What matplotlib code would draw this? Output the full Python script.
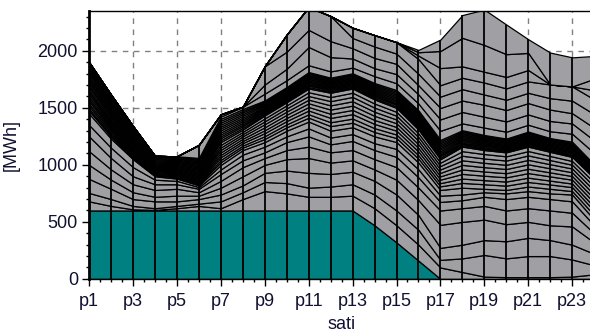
import numpy as np
import matplotlib.pyplot as plt

plt.rcParams['font.family'] = ['Liberation Sans', 'DejaVu Sans']
plt.rcParams['font.size'] = 13

hours = np.arange(1, 25)
hour_labels = ['p%d' % h for h in hours]

# base unit (teal)
base = [600, 600, 600, 600, 600, 600, 600, 600, 600, 600, 600, 600, 600,
        470, 320, 160, 0, 0, 0, 0, 0, 0, 0, 0]

# lower units, bottom to top [MWh]
lower = [
    [80, 40, 10, 5, 20, 40, 20, 100, 170, 150, 120, 120, 130, 150, 150, 140, 100, 60, 20, 15, 15, 15, 20, 40],
    [74, 60, 30, 15, 20, 20, 60, 60, 80, 90, 80, 90, 100, 120, 130, 130, 67, 120, 190, 165, 185, 185, 150, 80],
    [123, 90, 60, 60, 40, 40, 60, 60, 80, 110, 130, 110, 110, 120, 140, 130, 105, 120, 130, 150, 160, 140, 130, 100],
    [123, 80, 60, 40, 50, 30, 60, 80, 70, 100, 130, 100, 100, 100, 130, 130, 202, 200, 180, 150, 140, 130, 160, 100],
    [120, 90, 70, 60, 60, 30, 60, 80, 60, 80, 100, 90, 90, 90, 110, 110, 126, 120, 120, 120, 120, 130, 120, 80],
    [130, 100, 70, 50, 40, 30, 60, 60, 50, 70, 90, 70, 80, 80, 90, 90, 75, 70, 80, 100, 100, 100, 100, 70],
    [100, 90, 80, 40, 30, 15, 40, 50, 50, 50, 70, 60, 60, 60, 70, 70, 55, 50, 40, 50, 50, 50, 60, 50],
    [100, 80, 70, 30, 20, 15, 40, 40, 40, 50, 60, 60, 60, 60, 60, 60, 50, 60, 30, 30, 40, 40, 30, 40],
]

# mid units (hatched part of the band)
middle = [
    [25, 18, 10, 6, 8, 12, 24, 22, 28, 30, 34, 40, 40, 38, 35, 34, 32, 42, 40, 38, 40, 38, 35, 38],
    [18, 16, 11, 8, 10, 10, 20, 18, 24, 26, 30, 34, 36, 34, 31, 30, 28, 38, 36, 36, 38, 34, 31, 34],
    [22, 17, 9, 7, 9, 12, 23, 21, 27, 29, 33, 38, 39, 37, 34, 33, 31, 41, 39, 37, 40, 37, 34, 37],
    [20, 18, 10, 7, 8, 11, 21, 19, 25, 27, 31, 36, 37, 35, 32, 31, 29, 39, 37, 36, 38, 35, 32, 35],
    [23, 16, 10, 6, 10, 10, 22, 20, 26, 28, 32, 37, 38, 36, 33, 32, 30, 40, 38, 37, 39, 36, 33, 36],
    [19, 17, 11, 8, 9, 12, 22, 21, 27, 28, 32, 37, 38, 36, 33, 32, 30, 40, 38, 37, 39, 36, 33, 36],
    [21, 17, 10, 7, 9, 11, 21, 19, 25, 28, 32, 37, 38, 36, 33, 32, 30, 40, 38, 37, 39, 36, 33, 36],
    [22, 16, 9, 7, 8, 11, 23, 20, 26, 27, 33, 36, 37, 36, 34, 32, 30, 40, 39, 37, 38, 36, 33, 35],
    [20, 15, 10, 9, 9, 11, 24, 20, 26, 27, 33, 38, 37, 36, 35, 34, 30, 40, 35, 35, 39, 36, 36, 37],
]

# small units (dense black band)
small = [
    [20, 18, 15, 9, 9, 11, 17, 15, 11, 11, 12, 11, 11, 12, 13, 14, 14, 12, 11, 10, 11, 10, 11, 10],
    [22, 19, 14, 8, 10, 12, 18, 16, 12, 11, 13, 12, 11, 13, 14, 15, 15, 12, 11, 10, 12, 10, 11, 11],
    [18, 17, 16, 10, 9, 10, 16, 14, 10, 12, 11, 10, 12, 11, 12, 13, 13, 11, 12, 11, 10, 11, 12, 9],
    [21, 18, 15, 9, 8, 11, 17, 15, 11, 10, 12, 11, 11, 12, 13, 14, 14, 13, 10, 10, 11, 10, 10, 10],
    [19, 18, 15, 9, 9, 11, 17, 15, 11, 11, 12, 11, 11, 12, 13, 14, 14, 12, 11, 10, 11, 10, 11, 10],
    [20, 19, 14, 9, 10, 11, 18, 15, 11, 11, 12, 11, 10, 12, 13, 14, 15, 12, 11, 10, 11, 10, 11, 10],
    [20, 17, 15, 9, 9, 11, 17, 15, 11, 11, 12, 11, 11, 12, 13, 14, 14, 12, 11, 10, 11, 10, 11, 10],
    [21, 18, 16, 9, 9, 12, 16, 16, 12, 11, 12, 11, 11, 12, 13, 14, 14, 12, 11, 9, 11, 10, 11, 10],
    [19, 18, 15, 9, 9, 11, 17, 15, 11, 11, 12, 11, 11, 12, 13, 14, 14, 12, 11, 10, 11, 10, 11, 10],
    [20, 18, 15, 10, 9, 10, 17, 15, 11, 11, 12, 11, 12, 12, 13, 14, 14, 12, 11, 10, 11, 10, 11, 10],
    [20, 18, 15, 9, 10, 11, 17, 14, 10, 11, 12, 11, 11, 12, 13, 14, 14, 12, 11, 10, 11, 10, 11, 10],
    [20, 17, 15, 9, 9, 10, 17, 15, 10, 12, 12, 11, 11, 12, 13, 14, 14, 12, 11, 11, 11, 10, 12, 11],
]

# peak units on top
upper = [
    [20, 20, 20, 5, 5, 10, 20, 20, 60, 60, 60, 55, 50, 60, 60, 60, 80, 60, 65, 60, 60, 60, 70, 100],
    [0, 0, 0, 0, 0, 115, 20, 0, 80, 100, 160, 125, 80, 70, 80, 80, 100, 100, 95, 90, 90, 90, 90, 110],
    [0, 0, 0, 0, 0, 0, 0, 0, 160, 150, 150, 140, 90, 90, 90, 80, 100, 100, 105, 100, 100, 100, 90, 110],
    [0, 0, 0, 0, 0, 0, 0, 0, 0, 150, 200, 220, 90, 100, 90, 100, 100, 100, 90, 90, 90, 100, 110, 120],
    [0, 0, 0, 0, 0, 0, 0, 0, 0, 0, 0, 0, 90, 100, 100, 130, 100, 100, 105, 100, 100, 120, 125, 130],
    [0, 0, 0, 0, 0, 0, 0, 0, 0, 0, 0, 0, 0, 0, 0, 30, 150, 100, 95, 100, 100, 0, 0, 80],
    [0, 0, 0, 0, 0, 0, 0, 0, 0, 0, 0, 0, 0, 0, 0, 30, 150, 250, 235, 200, 150, 0, 0, 100],
    [0, 0, 0, 0, 0, 0, 0, 0, 0, 0, 0, 0, 0, 0, 0, 20, 100, 200, 310, 260, 120, 280, 255, 200],
]

layers = [base] + lower + middle + small + upper
colors = ['#008080'] + ['#a0a0a4'] * (len(layers) - 1)
total = np.sum(layers, axis=0)

fig = plt.figure(figsize=(5.9, 3.32), dpi=100)
ax = fig.add_axes([0.151, 0.16, 0.856, 0.807])

ax.stackplot(hours, layers, colors=colors, edgecolor='black', linewidth=0.9, zorder=2)
ax.vlines(hours, 0, total, colors='black', linewidth=1.3, zorder=3)

ax.set_xlim(1, 24)
ax.set_ylim(0, 2350)
ax.set_xticks(hours[::2])
ax.set_xticklabels(hour_labels[::2])
ax.set_xticks(np.arange(1, 24.01, 0.5), minor=True)
ax.set_yticks([0, 500, 1000, 1500, 2000])
ax.set_yticks(np.arange(0, 2350, 100), minor=True)
ax.tick_params(which='major', length=5, width=1, colors='black', labelcolor='#101030')
ax.tick_params(axis='x', which='major', pad=5)
ax.tick_params(axis='y', which='major', pad=3)
ax.tick_params(which='minor', length=2.2, width=1, colors='black')

ax.grid(True, which='major', color='#808080', linestyle=(0, (4, 4)), linewidth=1)
ax.set_axisbelow(True)

ax.spines['right'].set_visible(False)
ax.spines['left'].set_linewidth(2)
ax.spines['top'].set_linewidth(1)
ax.spines['bottom'].set_linewidth(1)

ax.set_ylabel('[MWh]', color='#101030')
ax.yaxis.set_label_coords(-0.137, 0.5)
ax.set_xlabel('sati', color='#101030')
ax.xaxis.set_label_coords(0.5, -0.138)

fig.savefig('out.png', dpi=100)
